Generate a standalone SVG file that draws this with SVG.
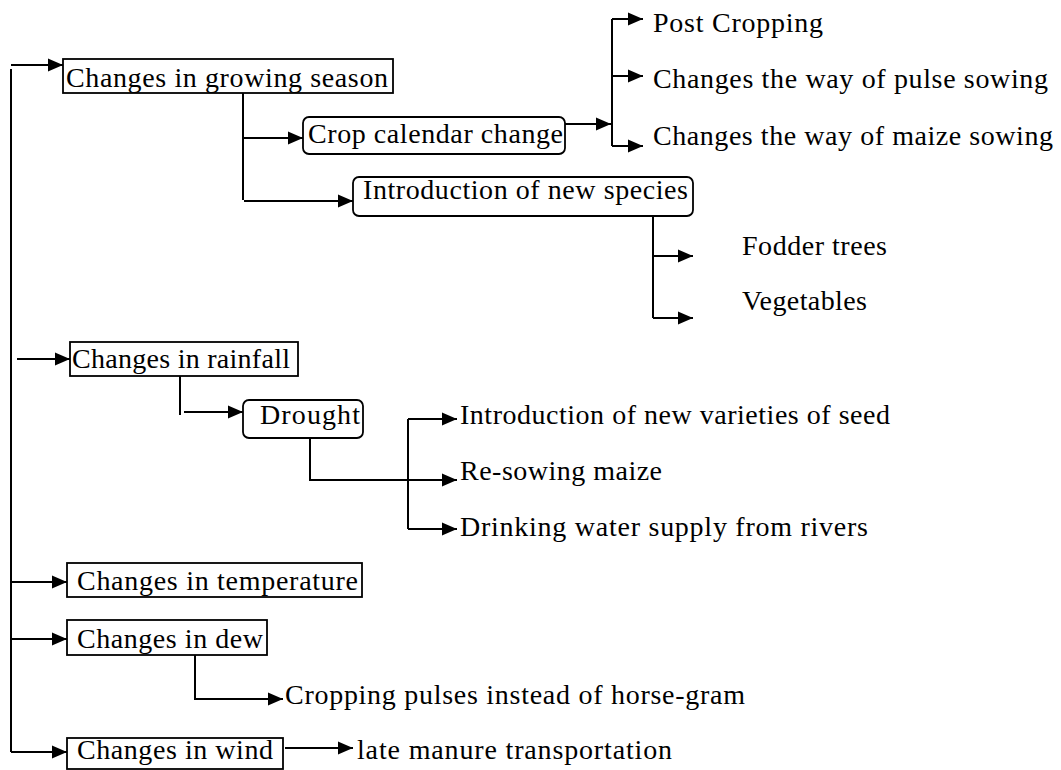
<svg xmlns="http://www.w3.org/2000/svg" width="1061" height="770" viewBox="0 0 1061 770">
<style>
.t{font-family:"Liberation Serif","Times New Roman",serif;font-size:28px;fill:#000}
.box{fill:#fff;stroke:#000;stroke-width:1.8}
.c{fill:none;stroke:#000;stroke-width:2}
.a{fill:none;stroke:#000;stroke-width:2;marker-end:url(#ah)}
</style>
<defs>
<marker id="ah" markerUnits="userSpaceOnUse" markerWidth="16" markerHeight="14" refX="15" refY="7" orient="auto">
<path d="M0,0.5 L15,7 L0,13.5 z" fill="#000"/>
</marker>
</defs>
<rect width="1061" height="770" fill="#fff"/>
<g id="connectors">
<path class="c" d="M11,69 V752"/>
<path class="a" d="M11,65 H63"/>
<path class="a" d="M17,359 H70"/>
<path class="a" d="M11,582 H67"/>
<path class="a" d="M11,639 H67"/>
<path class="a" d="M11,752 H67"/>
<path class="c" d="M243,89 V200"/>
<path class="a" d="M243,138 H303"/>
<path class="a" d="M244,201 H353"/>
<path class="a" d="M565,124 H611"/>
<path class="c" d="M612,19 V146"/>
<path class="a" d="M612,19 H643"/>
<path class="a" d="M612,76 H643"/>
<path class="a" d="M612,146 H643"/>
<path class="c" d="M653,216 V318"/>
<path class="a" d="M653,256 H693"/>
<path class="a" d="M653,318 H693"/>
<path class="c" d="M180,372 V415"/>
<path class="a" d="M184,412 H243"/>
<path class="a" d="M310,438 V480 H457"/>
<path class="c" d="M408,419 V529"/>
<path class="a" d="M408,419 H457"/>
<path class="a" d="M408,529 H457"/>
<path class="a" d="M195,655 V699 H283"/>
<path class="a" d="M285,748 H353"/>
</g>
<g id="n-growing">
<rect class="box" x="63" y="59" width="330" height="34"/>
<text class="t" x="66" y="87" textLength="322">Changes in growing season</text>
</g>
<g id="n-crop-calendar">
<rect class="box" x="303" y="117" width="262" height="37" rx="6"/>
<text class="t" x="308" y="143" textLength="255">Crop calendar change</text>
</g>
<g id="n-new-species">
<rect class="box" x="353" y="177" width="340" height="39" rx="6"/>
<text class="t" x="363" y="199" textLength="325">Introduction of new species</text>
</g>
<g id="n-post-cropping">
<text class="t" x="653" y="32" textLength="170">Post Cropping</text>
</g>
<g id="n-pulse-sowing">
<text class="t" x="653" y="88" textLength="395">Changes the way of pulse sowing</text>
</g>
<g id="n-maize-sowing">
<text class="t" x="653" y="145" textLength="400">Changes the way of maize sowing</text>
</g>
<g id="n-fodder">
<text class="t" x="742" y="255" textLength="145">Fodder trees</text>
</g>
<g id="n-vegetables">
<text class="t" x="742" y="310" textLength="125">Vegetables</text>
</g>
<g id="n-rainfall">
<rect class="box" x="70" y="342" width="228" height="34"/>
<text class="t" x="72" y="368" textLength="218">Changes in rainfall</text>
</g>
<g id="n-drought">
<rect class="box" x="243" y="400" width="120" height="38" rx="6"/>
<text class="t" x="260" y="424" textLength="100">Drought</text>
</g>
<g id="n-varieties">
<text class="t" x="460" y="424" textLength="430">Introduction of new varieties of seed</text>
</g>
<g id="n-resowing">
<text class="t" x="460" y="480" textLength="202">Re-sowing maize</text>
</g>
<g id="n-drinking">
<text class="t" x="460" y="536" textLength="408">Drinking water supply from rivers</text>
</g>
<g id="n-temperature">
<rect class="box" x="67" y="563" width="295" height="34"/>
<text class="t" x="77" y="590" textLength="281">Changes in temperature</text>
</g>
<g id="n-dew">
<rect class="box" x="67" y="620" width="200" height="35"/>
<text class="t" x="77" y="648" textLength="186">Changes in dew</text>
</g>
<g id="n-cropping-pulses">
<text class="t" x="285" y="704" textLength="460">Cropping pulses instead of horse-gram</text>
</g>
<g id="n-wind">
<rect class="box" x="67" y="738" width="216" height="31"/>
<text class="t" x="77" y="759" textLength="196">Changes in wind</text>
</g>
<g id="n-late-manure">
<text class="t" x="357" y="759" textLength="315">late manure transportation</text>
</g>
</svg>
